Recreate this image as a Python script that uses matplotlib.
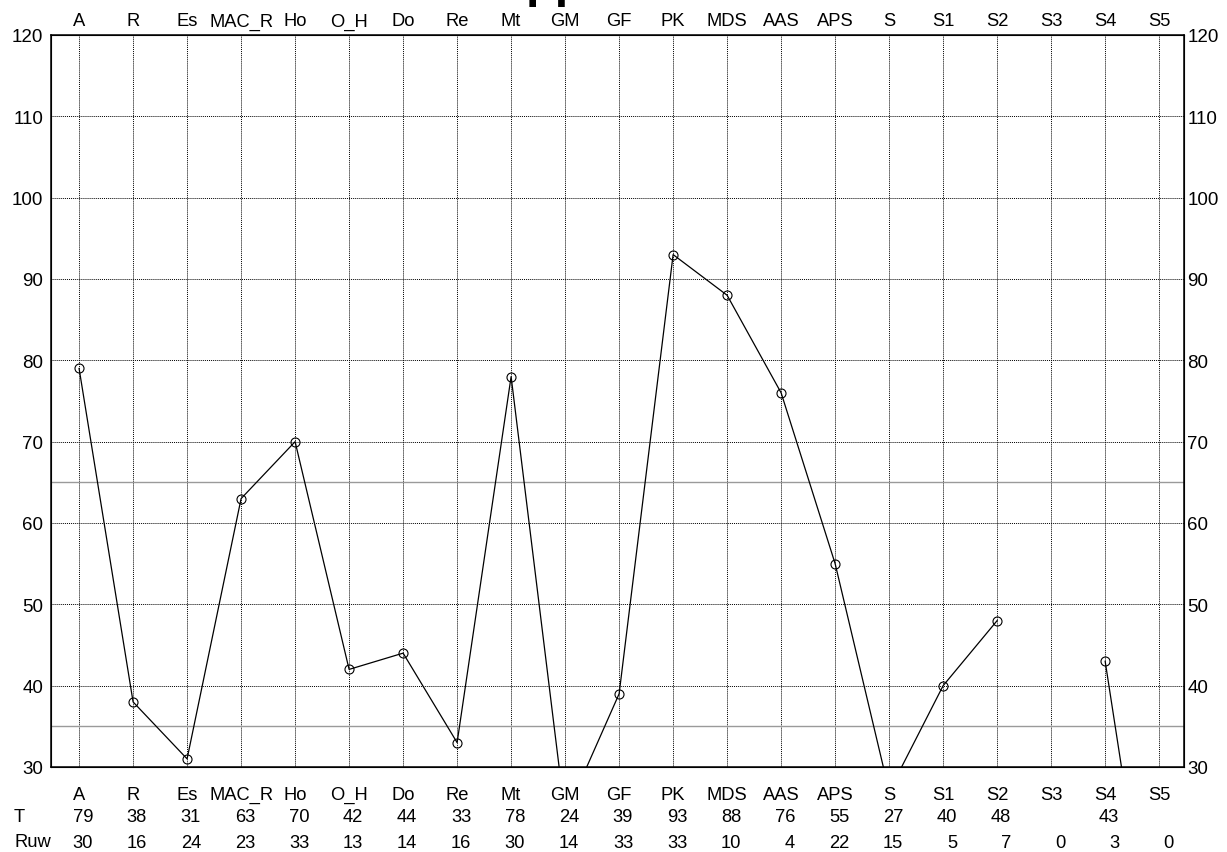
import numpy as np
import matplotlib.pyplot as plt

plt.rcParams['font.family'] = ['Liberation Sans', 'DejaVu Sans']

# Data
categories = ['A', 'R', 'Es', 'MAC_R', 'Ho', 'O_H', 'Do', 'Re', 'Mt', 'GM', 'GF',
              'PK', 'MDS', 'AAS', 'APS', 'S', 'S1', 'S2', 'S3', 'S4', 'S5']
t_values = [79, 38, 31, 63, 70, 42, 44, 33, 78, 24, 39,
            93, 88, 76, 55, 27, 40, 48, None, 43, 0]
t_labels = ['79', '38', '31', '63', '70', '42', '44', '33', '78', '24', '39',
            '93', '88', '76', '55', '27', '40', '48', '', '43', '']
ruw_values = [30, 16, 24, 23, 33, 13, 14, 16, 30, 14, 33,
              33, 10, 4, 22, 15, 5, 7, 0, 3, 0]
band_lines = [65, 35]
y_ticks = [30, 40, 50, 60, 70, 80, 90, 100, 110, 120]

fs = 13.2

fig = plt.figure(figsize=(12.27, 8.53), dpi=100)
ax = fig.add_axes([51 / 1227, 1 - 768 / 853, (1184 - 51) / 1227, (768 - 36) / 853])

x = np.arange(len(categories))
y = np.array([np.nan if v is None else v for v in t_values], dtype=float)

# grid and band lines
for xi in x:
    ax.axvline(xi, color='black', lw=0.7, ls=(0, (1, 1)), zorder=1)
for yt in y_ticks:
    ax.axhline(yt, color='black', lw=0.7, ls=(0, (1, 1)), zorder=1)
for b in band_lines:
    ax.axhline(b, color='#9a9a9a', lw=1.0, zorder=1)

ax.plot(x, y, color='black', lw=0.9, marker='o', ms=6.5, mfc='none',
        mec='black', mew=0.8, zorder=3)

ax.set_xlim(-0.52, 20.46)
ax.set_ylim(30, 120)
ax.set_xticks([])
ax.set_yticks(y_ticks)
ax.tick_params(axis='y', length=0, pad=5.5, labelsize=13.5)
for s in ax.spines.values():
    s.set_linewidth(1.1)

ax2 = ax.twinx()
ax2.set_ylim(30, 120)
ax2.set_yticks(y_ticks)
ax2.tick_params(axis='y', length=0, pad=2.5, labelsize=13.5)

# category labels on top and bottom, plus the T / Ruw rows
for i, cat in enumerate(categories):
    ax.annotate(cat, xy=(i, 1), xycoords=('data', 'axes fraction'),
                xytext=(0, 14), textcoords='offset pixels',
                ha='center', va='center', fontsize=fs)
    ax.annotate(cat, xy=(i, 0), xycoords=('data', 'axes fraction'),
                xytext=(0, -27), textcoords='offset pixels',
                ha='center', va='center', fontsize=fs)
    ax.annotate(t_labels[i], xy=(i, 0), xycoords=('data', 'axes fraction'),
                xytext=(14, -50), textcoords='offset pixels',
                ha='right', va='center', fontsize=fs)
    ax.annotate(str(ruw_values[i]), xy=(i, 0), xycoords=('data', 'axes fraction'),
                xytext=(14, -75), textcoords='offset pixels',
                ha='right', va='center', fontsize=fs)

fig.text(14 / 1227, 1 - 818 / 853, 'T', ha='left', va='center', fontsize=fs)
fig.text(14 / 1227, 1 - 843 / 853, 'Ruw', ha='left', va='center', fontsize=fs)

# title sits mostly above the canvas, only descenders show
fig.text(526 / 1227, 1 + 3 / 853, 'pp', ha='left', va='baseline',
         fontsize=35, fontweight='bold')

fig.savefig('out.png', dpi=100)
